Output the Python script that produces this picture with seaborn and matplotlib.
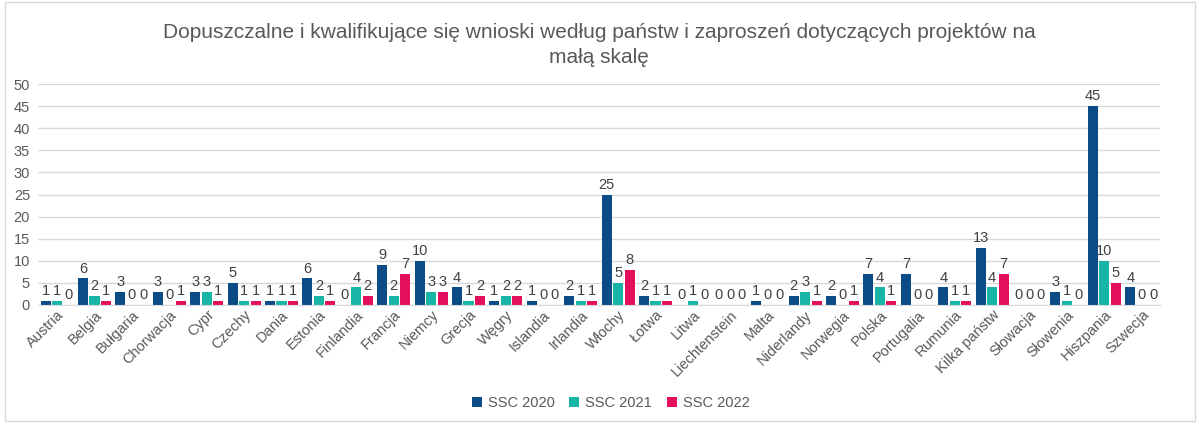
import matplotlib
matplotlib.use("Agg")
import matplotlib.pyplot as plt
import pandas as pd
import seaborn as sns
from matplotlib.patches import Rectangle

# Data
countries = ['Austria', 'Belgia', 'Bułgaria', 'Chorwacja', 'Cypr', 'Czechy', 'Dania',
             'Estonia', 'Finlandia', 'Francja', 'Niemcy', 'Grecja', 'Węgry', 'Islandia',
             'Irlandia', 'Włochy', 'Łotwa', 'Litwa', 'Liechtenstein', 'Malta',
             'Niderlandy', 'Norwegia', 'Polska', 'Portugalia', 'Rumunia', 'Kilka państw',
             'Słowacja', 'Słowenia', 'Hiszpania', 'Szwecja']
ssc_2020 = [1, 6, 3, 3, 3, 5, 1, 6, 0, 9, 10, 4, 1, 1, 2, 25, 2, 0, 0, 1, 2, 2, 7, 7, 4, 13, 0, 3, 45, 4]
ssc_2021 = [1, 2, 0, 0, 3, 1, 1, 2, 4, 2, 3, 1, 2, 0, 1, 5, 1, 1, 0, 0, 3, 0, 4, 0, 1, 4, 0, 1, 10, 0]
ssc_2022 = [0, 1, 0, 1, 1, 1, 1, 1, 2, 7, 3, 2, 2, 0, 1, 8, 1, 0, 0, 0, 1, 1, 1, 0, 1, 7, 0, 0, 5, 0]
series = ['SSC 2020', 'SSC 2021', 'SSC 2022']
colors = ['#0B4C86', '#17B5A6', '#E2105C']

df = pd.DataFrame({'Państwo': countries * 3,
                   'Wartość': ssc_2020 + ssc_2021 + ssc_2022,
                   'Nabór': [s for s in series for _ in countries]})

sns.set_style('white')
plt.rcParams['font.family'] = ['Liberation Sans', 'DejaVu Sans']

fig = plt.figure(figsize=(12, 4.23), dpi=100)
ax = fig.add_axes([0.032, 0.279, 0.935, 0.522])

sns.barplot(data=df, x='Państwo', y='Wartość', hue='Nabór', palette=colors,
            saturation=1, width=0.92, gap=0.12, linewidth=0, ax=ax, legend=True)

for cont in ax.containers:
    ax.bar_label(cont, fmt='%d', padding=2, fontsize=10.5, color='#404040')

ax.set_ylim(0, 50)
ax.set_yticks(range(0, 51, 5))
ax.set_xlim(-0.5, len(countries) - 0.5)
ax.yaxis.grid(True, color='#D9D9D9', linewidth=1)
ax.set_axisbelow(True)
for s in ['top', 'right', 'left']:
    ax.spines[s].set_visible(False)
ax.spines['bottom'].set_color('#D9D9D9')
ax.set_xlabel('')
ax.set_ylabel('')
ax.tick_params(axis='y', labelsize=10.5, colors='#595959', length=0, pad=6)
ax.tick_params(axis='x', labelsize=10.5, colors='#595959', length=0, pad=2)
plt.setp(ax.get_xticklabels(), rotation=45, ha='right', rotation_mode='anchor')

ax.set_title('Dopuszczalne i kwalifikujące się wnioski według państw i zaproszeń dotyczących projektów na\nmałą skalę',
             fontsize=15, color='#595959', pad=15, linespacing=1.4)

ax.legend(loc='center', bbox_to_anchor=(0.51, -0.445), ncol=3, frameon=False,
          fontsize=10.5, handlelength=0.7, handleheight=0.7, handletextpad=0.4,
          columnspacing=1.0, labelcolor='#595959')

fig.patches.append(Rectangle((0.004, 0.004), 0.992, 0.992, transform=fig.transFigure,
                             fill=False, edgecolor='#D9D9D9', linewidth=1))

fig.savefig('out.png', dpi=100)
